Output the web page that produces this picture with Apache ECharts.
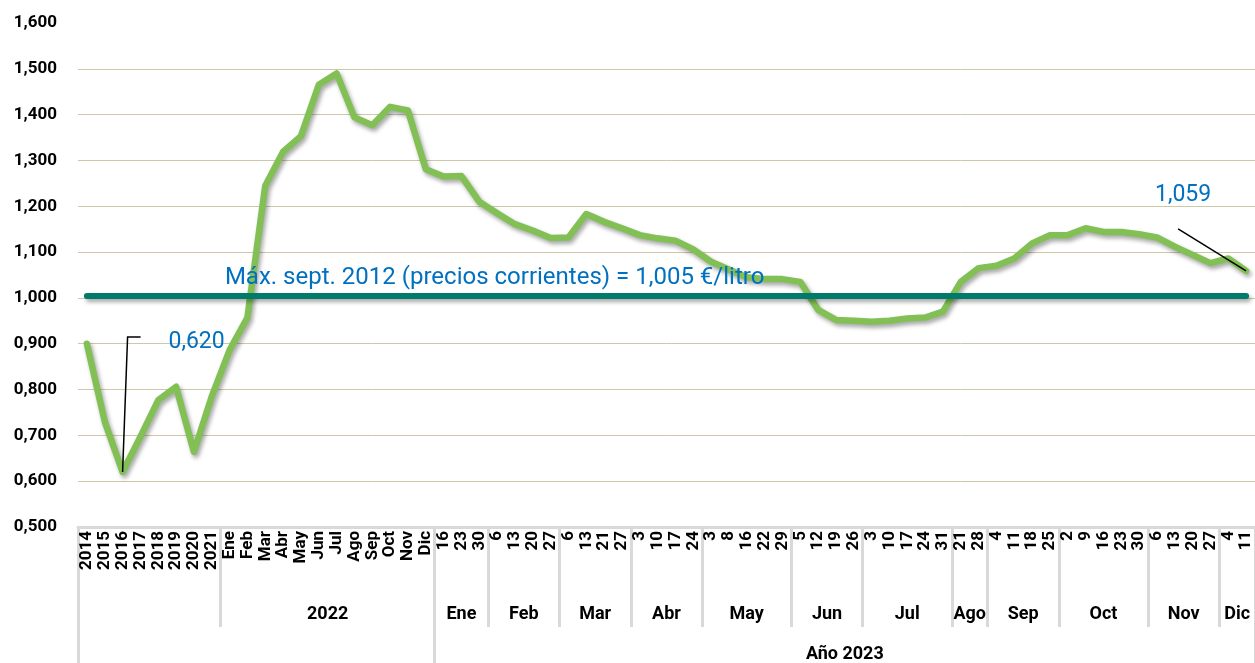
<!DOCTYPE html>
<html>
<head>
<meta charset="utf-8">
<script src="https://cdn.jsdelivr.net/npm/echarts@6/dist/echarts.min.js"></script>
<style>
html,body{margin:0;padding:0;background:#fff;}
#chart{width:1255px;height:663px;}
</style>
</head>
<body>
<div id="chart"></div>
<script>
// ---- data ----
const years = ['2014','2015','2016','2017','2018','2019','2020','2021'];
const months2022 = ['Ene','Feb','Mar','Abr','May','Jun','Jul','Ago','Sep','Oct','Nov','Dic'];
const days2023 = ['16','23','30','6','13','20','27','6','13','21','27','3','10','17','24','3','8','16','22','29','5','12','19','26','3','10','17','24','31','21','28','4','11','18','25','2','9','16','23','30','6','13','20','27','4','11'];

const valuesYears = [0.900, 0.730, 0.620, 0.697, 0.777, 0.806, 0.664, 0.785];
const values2022 = [0.886, 0.957, 1.245, 1.319, 1.353, 1.465, 1.490, 1.394, 1.377, 1.417, 1.409, 1.281];
const values2023 = [1.265, 1.266, 1.210, 1.185, 1.161, 1.147, 1.131, 1.132, 1.183, 1.166, 1.152,
  1.137, 1.130, 1.125, 1.106, 1.079, 1.062, 1.045, 1.041, 1.041, 1.035, 0.974, 0.952, 0.950,
  0.948, 0.950, 0.955, 0.957, 0.970, 1.035, 1.065, 1.070, 1.086, 1.119, 1.137, 1.137, 1.152,
  1.144, 1.144, 1.139, 1.132, 1.112, 1.094, 1.076, 1.086, 1.059];

const groupNames = ['', '2022', 'Ene','Feb','Mar','Abr','May','Jun','Jul','Ago','Sep','Oct','Nov','Dic'];
const groupSizes = [8, 12, 3, 4, 4, 4, 5, 4, 5, 2, 4, 5, 4, 2];
const superNames = ['', 'Año 2023'];
const superSizes = [20, 46];

const refValue = 1.005;
const refText = 'Máx. sept. 2012 (precios corrientes) = 1,005 €/litro';
const labelledIdx = [2, 65];

const yTicks = {min: 0.5, max: 1.6, interval: 0.1};

// ---- build ----
const categories = years.concat(months2022, days2023);
const values = valuesYears.concat(values2022, values2023);
const fmt = v => v.toFixed(3).replace('.', ',');

function spans(sizes){
  const bounds = [0], centers = [];
  let acc = 0;
  sizes.forEach(s => { centers.push(acc + s/2); acc += s; bounds.push(acc); });
  return {bounds, centers};
}
const g = spans(groupSizes);
const s = spans(superSizes);

const FONT = 'Roboto';
const BORDER = '#D9D9D9';
const BLUE = '#0070C0';

// label placement (style): offsets relative to default 'top' label position
const labelShift = {2: {dx: 74, dy: -113}, 65: {dx: -63, dy: -59}};
// leader line shapes (style): offsets in px from the data point
const leaderShapes = {2: [[0, 0], [5, -135], [18, -135]], 65: [[0, 0], [-68, -42]]};

const seriesData = values.map((v, i) => labelledIdx.includes(i)
  ? {value: v, label: {show: true}}
  : v);

const chart = echarts.init(document.getElementById('chart'));
chart.setOption({
  animation: false,
  textStyle: {fontFamily: FONT},
  grid: {left: 78, right: -4, top: 23, bottom: 136, containLabel: false},
  xAxis: [
    {
      type: 'category', data: categories, boundaryGap: true, position: 'bottom',
      axisLine: {show: true, lineStyle: {color: BORDER, width: 3}},
      axisTick: {show: false},
      axisLabel: {interval: 0, rotate: 90, margin: 4, fontFamily: FONT, fontWeight: 'bold', fontSize: 17, color: '#000'},
      splitLine: {show: false}
    },
    {
      type: 'value', min: 0, max: categories.length, position: 'bottom',
      axisLine: {show: false}, splitLine: {show: false},
      axisTick: {show: true, customValues: g.bounds, length: 100, lineStyle: {color: BORDER, width: 3}},
      axisLabel: {show: true, customValues: g.centers, margin: 78, fontFamily: FONT, fontWeight: 'bold', fontSize: 18, color: '#000',
        formatter: v => { const k = g.centers.findIndex(c => Math.abs(c - v) < 1e-6); return k >= 0 ? groupNames[k] : ''; }}
    },
    {
      type: 'value', min: 0, max: categories.length, position: 'bottom',
      axisLine: {show: false}, splitLine: {show: false},
      axisTick: {show: true, customValues: s.bounds, length: 140, lineStyle: {color: BORDER, width: 3}},
      axisLabel: {show: true, customValues: s.centers, margin: 118, fontFamily: FONT, fontWeight: 'bold', fontSize: 18, color: '#000',
        formatter: v => { const k = s.centers.findIndex(c => Math.abs(c - v) < 1e-6); return k >= 0 ? superNames[k] : ''; }}
    }
  ],
  yAxis: {
    type: 'value', min: yTicks.min, max: yTicks.max, interval: yTicks.interval,
    axisLine: {show: false}, axisTick: {show: false},
    axisLabel: {margin: 21, fontFamily: FONT, fontWeight: 'bold', fontSize: 17, color: '#000', formatter: fmt},
    splitLine: {show: true, showMinLine: false, showMaxLine: false, lineStyle: {color: '#CFC8A8', width: 1}}
  },
  series: [{
    type: 'line',
    data: seriesData,
    xAxisIndex: 0,
    showSymbol: true, symbol: 'circle', symbolSize: 1,
    itemStyle: {color: 'rgba(0,0,0,0)'},
    lineStyle: {color: '#82C055', width: 6.5, cap: 'round', join: 'round',
      shadowColor: 'rgba(0,0,0,0.35)', shadowBlur: 4, shadowOffsetX: 2, shadowOffsetY: 3},
    label: {show: false, color: BLUE, fontSize: 23, fontFamily: FONT, formatter: p => fmt(p.value)},
    labelLayout: p => labelShift[p.dataIndex] || {},
    emphasis: {disabled: true},
    silent: true,
    z: 3,
    markLine: {
      silent: true, symbol: 'none', animation: false,
      lineStyle: {color: '#007A6B', width: 6, type: 'solid', cap: 'round',
        shadowColor: 'rgba(0,0,0,0.35)', shadowBlur: 4, shadowOffsetX: 2, shadowOffsetY: 3},
      label: {show: true, position: 'insideStartTop', formatter: refText, color: BLUE, fontSize: 24,
        fontFamily: FONT, padding: [0, 0, 0, 132], distance: 6},
      emphasis: {disabled: true},
      data: [[{coord: [0, refValue]}, {coord: [categories.length - 1, refValue]}]]
    }
  }]
});

// leader lines attached to the labelled data points
const graphics = labelledIdx.map(i => {
  const p = chart.convertToPixel({xAxisIndex: 0, yAxisIndex: 0}, [i, values[i]]);
  return {
    type: 'polyline', silent: true, z: 10,
    shape: {points: leaderShapes[i].map(o => [p[0] + o[0], p[1] + o[1]])},
    style: {stroke: '#000', lineWidth: 1.5, fill: null}
  };
});
chart.setOption({graphic: graphics});
</script>
</body>
</html>
